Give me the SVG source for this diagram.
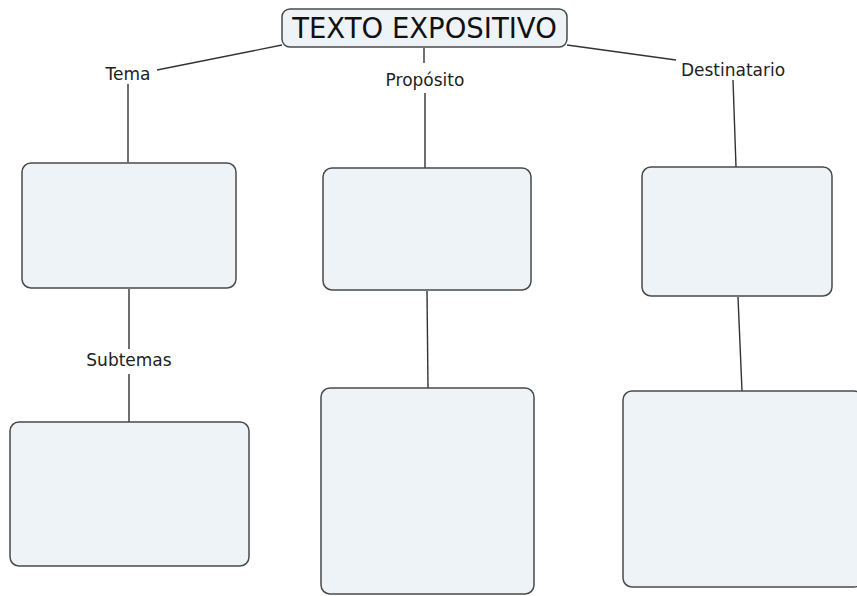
<svg xmlns="http://www.w3.org/2000/svg" width="857" height="596" viewBox="0 0 857 596">
<style>
.box{fill:#edf3f6;stroke:#4a4a4a;stroke-width:1.5}
.ln{stroke:#333;stroke-width:1.4;fill:none}
.lbl{font-family:"DejaVu Sans","Liberation Sans",sans-serif;font-size:17px;fill:#222}
.title{font-family:"DejaVu Sans","Liberation Sans",sans-serif;font-size:27.5px;fill:#111}
</style>
<rect width="857" height="596" fill="#fff"/>
<g id="connectors">
<line class="ln" x1="157" y1="70" x2="282" y2="45"/>
<line class="ln" x1="128" y1="84" x2="128" y2="162"/>
<line class="ln" x1="424" y1="48" x2="424" y2="63"/>
<line class="ln" x1="425" y1="93" x2="425" y2="168"/>
<line class="ln" x1="567" y1="45" x2="676" y2="60"/>
<line class="ln" x1="733" y1="80" x2="736" y2="167"/>
<line class="ln" x1="129" y1="289" x2="129" y2="349"/>
<line class="ln" x1="129" y1="374" x2="129" y2="422"/>
<line class="ln" x1="427" y1="291" x2="428" y2="388"/>
<line class="ln" x1="738" y1="297" x2="742" y2="391"/>
</g>
<g id="title"><rect class="box" x="282" y="9" width="285" height="38" rx="8"/><text class="title" x="424.5" y="38" text-anchor="middle">TEXTO EXPOSITIVO</text></g>
<g id="tema"><text class="lbl" x="128" y="80" text-anchor="middle">Tema</text></g>
<g id="proposito"><text class="lbl" x="425" y="86" text-anchor="middle">Propósito</text></g>
<g id="destinatario"><text class="lbl" x="733" y="76" text-anchor="middle">Destinatario</text></g>
<g id="subtemas"><text class="lbl" x="129" y="366" text-anchor="middle">Subtemas</text></g>
<g id="box1"><rect class="box" x="22" y="163" width="214" height="125" rx="9"/></g>
<g id="box2"><rect class="box" x="323" y="168" width="208" height="122" rx="9"/></g>
<g id="box3"><rect class="box" x="642" y="167" width="190" height="129" rx="9"/></g>
<g id="box4"><rect class="box" x="10" y="422" width="239" height="144" rx="9"/></g>
<g id="box5"><rect class="box" x="321" y="388" width="213" height="206" rx="9"/></g>
<g id="box6"><rect class="box" x="623" y="391" width="240" height="196" rx="9"/></g>
</svg>
